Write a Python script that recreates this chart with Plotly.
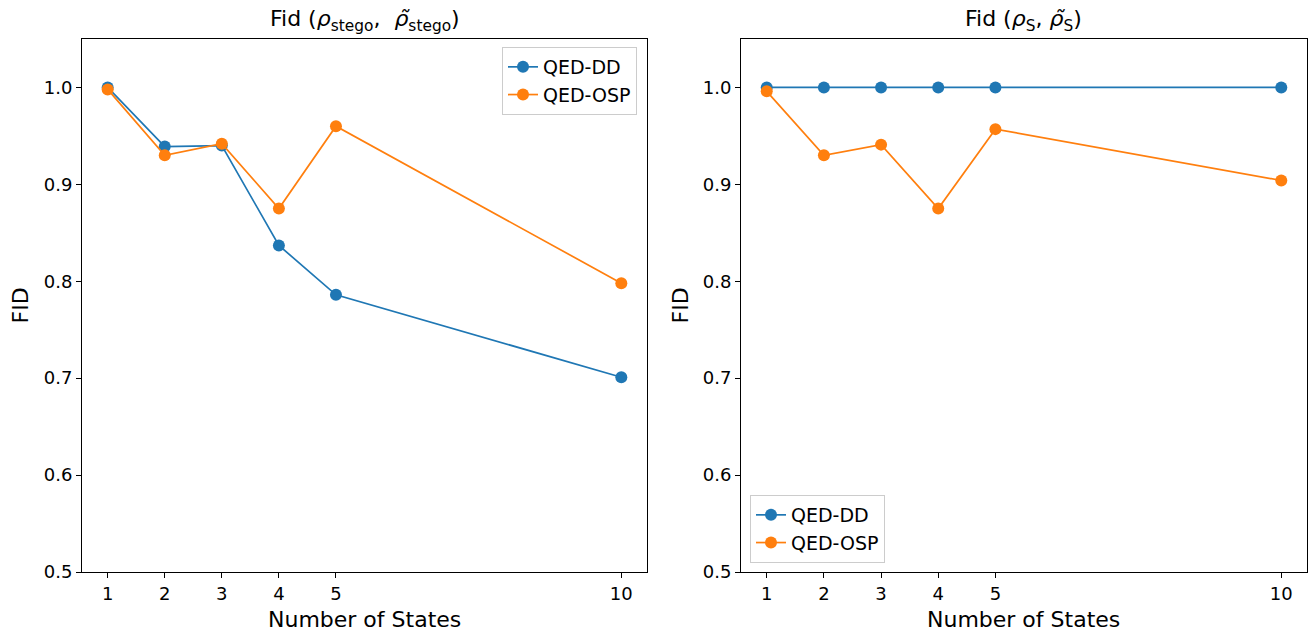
import plotly.graph_objects as go

# Number of states on the x axis
states = [1, 2, 3, 4, 5, 10]

# Fidelity of the stego state
stego_dd = [1.000, 0.939, 0.940, 0.837, 0.786, 0.701]
stego_osp = [0.998, 0.930, 0.942, 0.875, 0.960, 0.798]

# Fidelity of the secret state
secret_dd = [1.000, 1.000, 1.000, 1.000, 1.000, 1.000]
secret_osp = [0.996, 0.930, 0.941, 0.875, 0.957, 0.904]

BLUE = "#1f77b4"
ORANGE = "#ff7f0e"
FONT = "DejaVu Sans"

fig = go.Figure()

def add_series(x, y, name, color, xa, ya, legend):
    fig.add_trace(go.Scatter(
        x=x, y=y, name=name, mode="lines+markers",
        line=dict(color=color, width=1.7),
        marker=dict(color=color, size=12),
        xaxis=xa, yaxis=ya, legend=legend,
    ))

add_series(states, stego_dd, "QED-DD", BLUE, "x", "y", "legend")
add_series(states, stego_osp, "QED-OSP", ORANGE, "x", "y", "legend")
add_series(states, secret_dd, "QED-DD", BLUE, "x2", "y2", "legend2")
add_series(states, secret_osp, "QED-OSP", ORANGE, "x2", "y2", "legend2")

W, H = 1311, 634
left = (82 / W, 647 / W)
right = (741 / W, 1307 / W)
ydom = (1 - 572 / H, 1 - 39 / H)

axis_common = dict(
    showline=True, linecolor="black", linewidth=1, mirror=True,
    ticks="outside", ticklen=5, tickwidth=1, tickcolor="black",
    showgrid=False, zeroline=False, automargin=False,
    tickfont=dict(family=FONT, size=18, color="black"),
)
xaxis_common = dict(axis_common, range=[0.55, 10.45], tickvals=states)
yaxis_common = dict(
    axis_common, range=[0.5, 1.05], tickvals=[0.5, 0.6, 0.7, 0.8, 0.9, 1.0],
    tickformat=".1f",
)

legend_common = dict(
    bgcolor="rgba(255,255,255,0.8)", bordercolor="#cccccc", borderwidth=1,
    font=dict(family=FONT, size=19, color="black"),
    itemwidth=30, tracegroupgap=0,
)

label_font = dict(family=FONT, size=22, color="black")
title_font = dict(family=FONT, size=22, color="black")

def paper_x(px):
    return px / W

def paper_y(py):
    return 1 - py / H

annotations = []
for dom, title in [
    (left, "Fid (<i>ρ</i><sub>stego</sub>,  <i>ρ̃</i><sub>stego</sub>)"),
    (right, "Fid (<i>ρ</i><sub>S</sub>, <i>ρ̃</i><sub>S</sub>)"),
]:
    cx = (dom[0] + dom[1]) / 2
    annotations.append(dict(text=title, x=cx, y=paper_y(20), xref="paper", yref="paper",
                            xanchor="center", yanchor="middle", showarrow=False, font=title_font))
    annotations.append(dict(text="Number of States", x=cx, y=paper_y(619), xref="paper", yref="paper",
                            xanchor="center", yanchor="middle", showarrow=False, font=label_font))
for px in (20, 680):
    annotations.append(dict(text="FID", x=paper_x(px), y=(ydom[0] + ydom[1]) / 2,
                            xref="paper", yref="paper", xanchor="center", yanchor="middle",
                            textangle=-90, showarrow=False, font=label_font))

fig.update_layout(
    width=W, height=H,
    margin=dict(l=0, r=0, t=0, b=0),
    plot_bgcolor="white", paper_bgcolor="white",
    font=dict(family=FONT, color="black"),
    xaxis=dict(xaxis_common, domain=left, anchor="y"),
    yaxis=dict(yaxis_common, domain=ydom, anchor="x"),
    xaxis2=dict(xaxis_common, domain=right, anchor="y2"),
    yaxis2=dict(yaxis_common, domain=ydom, anchor="x2"),
    legend=dict(legend_common, x=paper_x(637), xanchor="right", y=paper_y(47), yanchor="top"),
    legend2=dict(legend_common, x=paper_x(750), xanchor="left", y=paper_y(563), yanchor="bottom"),
    annotations=annotations,
)

fig.write_html("out.html")
